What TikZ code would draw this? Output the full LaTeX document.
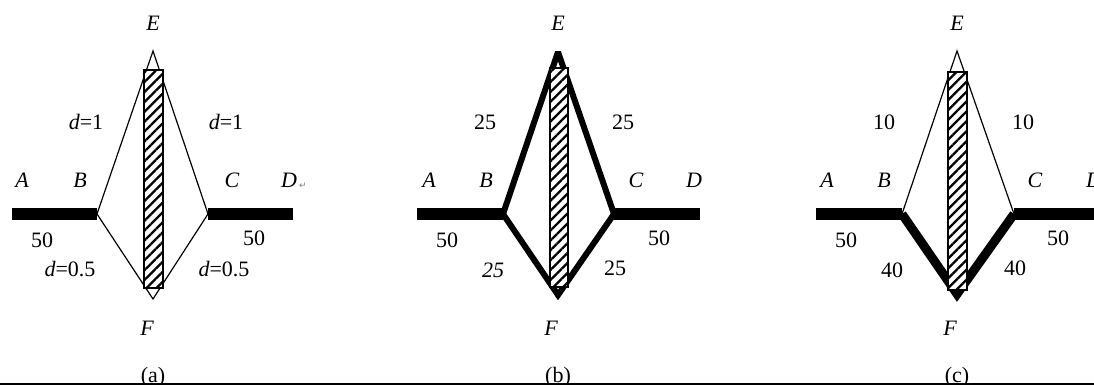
\documentclass[tikz,border=0pt]{standalone}
\usepackage{fontspec}
\setmainfont{Liberation Serif}
\newfontfamily\symfont{DejaVu Sans}
\usetikzlibrary{patterns.meta}
\tikzset{
  lbl/.style={font=\fontsize{22}{24}\selectfont, inner sep=0pt},
  pnt/.style={lbl, font=\fontsize{22}{24}\selectfont\itshape},
  bar/.style={line width=12pt},
  thinedge/.style={line width=1.2pt},
  slab/.style={draw, line width=1.4pt, fill=white,
    postaction={pattern={Lines[angle=45,distance=7pt,line width=2.3pt]}}},
}

\begin{document}
\begin{tikzpicture}[x=1pt,y=-1pt]
  \useasboundingbox[fill=white] (0,0) rectangle (1094,385);

  % panel (a)
  \begin{scope}[shift={(153,0)}]
    \coordinate (aA) at (-141,214);
    \coordinate (aB) at (-56,214);
    \coordinate (aC) at (55,214);
    \coordinate (aD) at (140,214);
    \coordinate (aE) at (0,51);
    \coordinate (aF) at (0,299);
    \draw[bar] (aA) -- (aB);
    \draw[bar] (aC) -- (aD);
    \draw[thinedge] (aB) -- (aE) -- (aC) -- (aF) -- cycle;
    \draw[slab] (-9,70) rectangle (10,288);
    \node[pnt] (aEl) at (0,23) {E};
    \node[pnt] (aFl) at (-6,328) {F};
    \node[pnt] (aAl) at (-131,180) {A};
    \node[pnt] (aBl) at (-73,180) {B};
    \node[pnt] (aCl) at (79,180) {C};
    \node[pnt] (aDl) at (136,180) {D};
    \node[inner sep=0pt, gray, font=\symfont\fontsize{9}{9}\selectfont] (aret) at (150,186) {↵};
    \node[lbl] (aBE) at (-67,122) {\textit{d}=1};
    \node[lbl] (aEC) at (73,122) {\textit{d}=1};
    \node[lbl] (aAB) at (-111,240) {50};
    \node[lbl] (aCD) at (101,238) {50};
    \node[lbl] (aBF) at (-83,269) {\textit{d}=0.5};
    \node[lbl] (aFC) at (71,269) {\textit{d}=0.5};
    \node[lbl] (acap) at (0,377) {(a)};
  \end{scope}

  % panel (b)
  \begin{scope}[shift={(558,0)}]
    \coordinate (bA) at (-141,214);
    \coordinate (bB) at (-55,214);
    \coordinate (bC) at (56,214);
    \coordinate (bD) at (142,214);
    \coordinate (bE) at (0,52);
    \coordinate (bF) at (0,295);
    \draw[bar] (bA) -- (bB);
    \draw[bar] (bC) -- (bD);
    \draw[line width=6pt, line join=bevel] (bB) -- (bE) -- (bC);
    \draw[line width=6pt, line join=miter] (bB) -- (bF) -- (bC);
    \draw[slab] (-8,68) rectangle (10,287);
    \node[pnt] (bEl) at (0,23) {E};
    \node[pnt] (bFl) at (-7,328) {F};
    \node[pnt] (bAl) at (-129,180) {A};
    \node[pnt] (bBl) at (-72,180) {B};
    \node[pnt] (bCl) at (78,180) {C};
    \node[pnt] (bDl) at (136,180) {D};
    \node[lbl] (bBE) at (-73,122) {25};
    \node[lbl] (bEC) at (65,122) {25};
    \node[lbl] (bAB) at (-111,240) {50};
    \node[lbl] (bCD) at (101,238) {50};
    \node[pnt] (bBF) at (-65,270) {25};
    \node[lbl] (bFC) at (57,268) {25};
    \node[lbl] (bcap) at (0,377) {(b)};
  \end{scope}

  % panel (c)
  \begin{scope}[shift={(957,0)}]
    \coordinate (cA) at (-141,214);
    \coordinate (cB) at (-55,214);
    \coordinate (cC) at (57,214);
    \coordinate (cD) at (145,214);
    \coordinate (cE) at (0,51);
    \coordinate (cF) at (0,294);
    \draw[bar] (cA) -- (cB);
    \draw[bar] (cC) -- (cD);
    \draw[thinedge] (cB) -- (cE) -- (cC);
    \draw[line width=9pt, line join=miter] (cB) -- (cF) -- (cC);
    \draw[slab] (-9,72) rectangle (10,290);
    \node[pnt] (cEl) at (0,23) {E};
    \node[pnt] (cFl) at (-7,328) {F};
    \node[pnt] (cAl) at (-130,180) {A};
    \node[pnt] (cBl) at (-73,180) {B};
    \node[pnt] (cCl) at (78,180) {C};
    \node[pnt] (cDl) at (137,180) {D};
    \node[lbl] (cBE) at (-73,122) {10};
    \node[lbl] (cEC) at (66,122) {10};
    \node[lbl] (cAB) at (-111,240) {50};
    \node[lbl] (cCD) at (101,238) {50};
    \node[lbl] (cBF) at (-65,270) {40};
    \node[lbl] (cFC) at (58,268) {40};
    \node[lbl] (ccap) at (0,377) {(c)};
  \end{scope}

  % bottom rule
  \coordinate (ruleL) at (0,384);
  \coordinate (ruleR) at (1094,384);
  \draw[line width=1.5pt] (ruleL) -- (ruleR);
\end{tikzpicture}
\end{document}
